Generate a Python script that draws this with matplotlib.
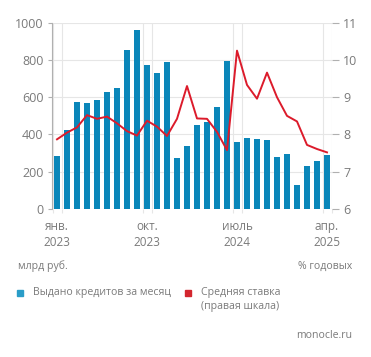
import numpy as np
import matplotlib.pyplot as plt
from matplotlib.patches import Rectangle

plt.rcParams['font.family'] = ['Open Sans', 'DejaVu Sans']

# monthly data, Jan 2023 .. Apr 2025
months = np.arange(28)
issued = [284, 424, 572, 569, 585, 630, 649, 853, 959, 773, 730, 789,
          274, 336, 451, 467, 549, 792, 360, 379, 376, 370, 277, 293,
          131, 231, 259, 292]
rate = [7.87, 8.05, 8.19, 8.52, 8.42, 8.48, 8.30, 8.09, 7.97, 8.37, 8.21, 7.96,
        8.42, 9.30, 8.43, 8.42, 8.07, 7.58, 10.25, 9.33, 8.96, 9.66, 9.00, 8.50,
        8.35, 7.72, 7.61, 7.52]
tick_pos = [0, 9, 18, 27]
tick_labels = ['янв.\n2023', 'окт.\n2023', 'июль\n2024', 'апр.\n2025']

blue = '#0a86b9'
red = '#dc1b2b'
grey = '#7a7a7a'
gridc = '#e6e6e6'

W, H = 371, 357
fig = plt.figure(figsize=(W / 100, H / 100), dpi=100)
ax = fig.add_axes([52 / W, 148 / H, 280 / W, 186.3 / H])
ax.bar(months, issued, width=0.62, color=blue, zorder=2)
ax.set_xlim(-0.5, 27.5)
ax.set_ylim(0, 1000)
ax.set_yticks(range(0, 1001, 200))
ax.set_xticks(tick_pos)
ax.set_xticklabels(tick_labels)
ax.set_xticks([p + d for p in tick_pos for d in (-0.45, 0.45)], minor=True)
ax.grid(axis='y', color=gridc, lw=0.8, zorder=0)
ax.grid(axis='x', which='minor', color=gridc, lw=0.8, zorder=0)
for s in ['top', 'right', 'bottom']:
    ax.spines[s].set_visible(False)
ax.spines['left'].set_color('#b0b0b0')
ax.tick_params(axis='y', color='#b0b0b0', labelsize=9, length=3, width=0.8,
               labelcolor=grey, pad=3)
ax.tick_params(axis='x', which='major', length=0, labelsize=8.5, labelcolor=grey, pad=8)
ax.tick_params(axis='x', which='minor', length=3, color=gridc, width=0.8)
for lbl in ax.get_xticklabels():
    lbl.set_linespacing(1.25)

ax2 = ax.twinx()
ax2.plot(months, rate, color=red, lw=1.4, zorder=3)
ax2.set_ylim(6, 11)
ax2.set_yticks(range(6, 12))
for s in ['top', 'left', 'bottom', 'right']:
    ax2.spines[s].set_visible(False)
ax2.tick_params(axis='y', length=5, width=0.8, color='#b0b0b0', labelsize=9,
                labelcolor=grey, pad=3)

fs = 7.6
fig.text(18 / W, 1 - 266 / H, 'млрд руб.', fontsize=fs, color=grey, va='center')
fig.text(352 / W, 1 - 266 / H, '% годовых', fontsize=fs, color=grey,
         va='center', ha='right')

# legend drawn by hand
fig.patches.append(Rectangle((17 / W, 1 - 296 / H), 6 / W, 6 / H,
                             transform=fig.transFigure, color='#2a9dc8'))
fig.text(33 / W, 1 - 293 / H, 'Выдано кредитов за месяц', fontsize=fs,
         color=grey, va='center')
fig.patches.append(Rectangle((185 / W, 1 - 296 / H), 6 / W, 6 / H,
                             transform=fig.transFigure, color='#d3262e'))
fig.text(201 / W, 1 - 293 / H, 'Средняя ставка', fontsize=fs, color=grey, va='center')
fig.text(201 / W, 1 - 307 / H, '(правая шкала)', fontsize=fs, color=grey, va='center')

fig.text(352 / W, 1 - 335 / H, 'monocle.ru', fontsize=fs, color=grey,
         va='center', ha='right')

fig.savefig('out.png', dpi=100)
